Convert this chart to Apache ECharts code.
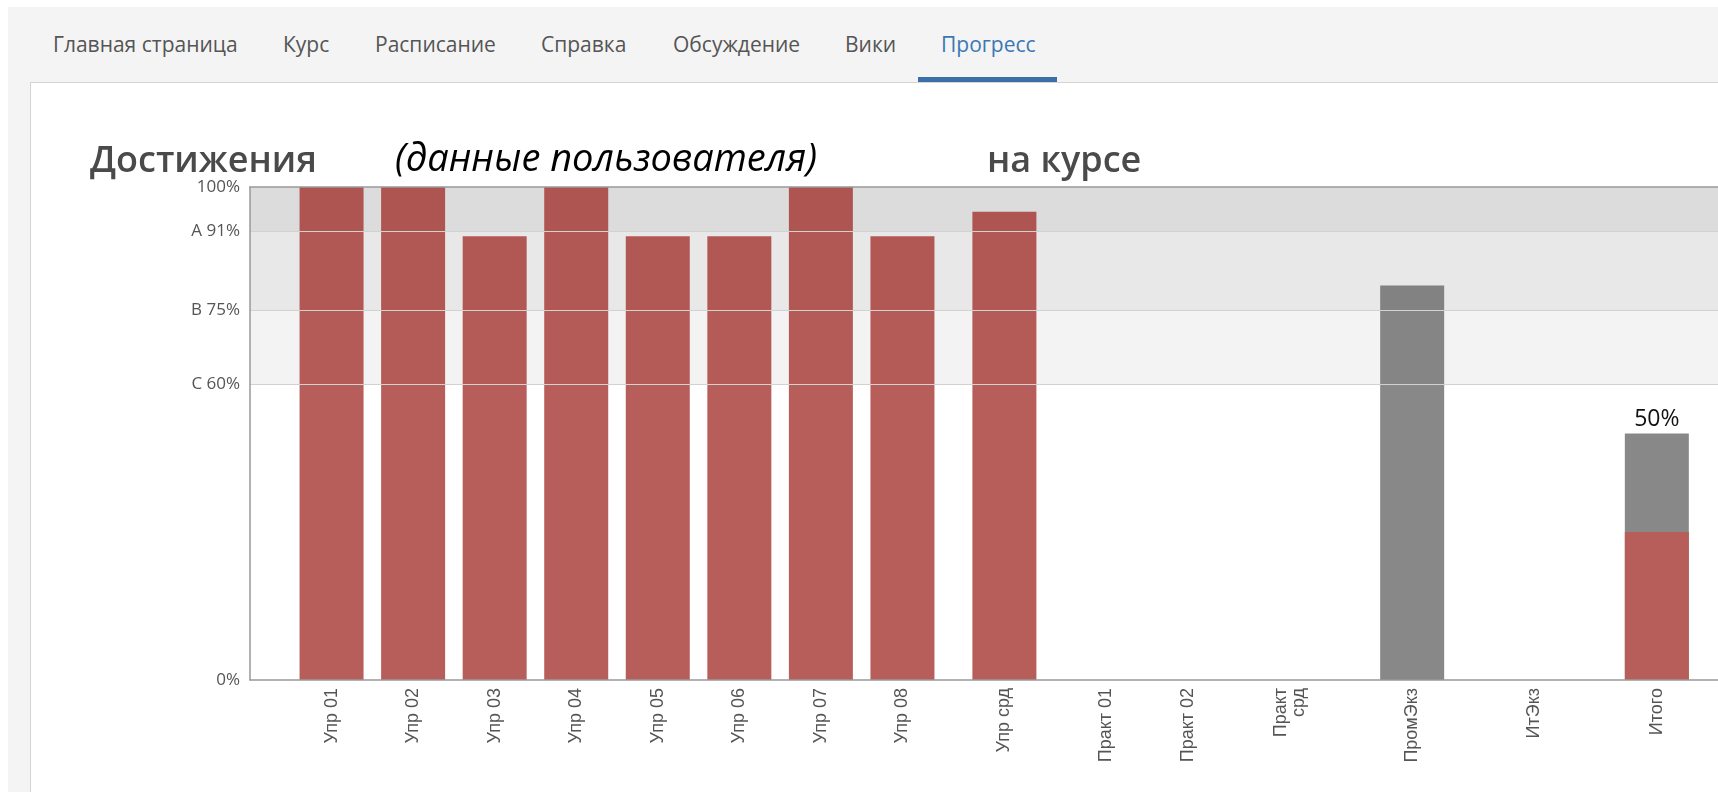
<!DOCTYPE html>
<html>
<head>
<meta charset="utf-8">
<script src="https://cdn.jsdelivr.net/npm/echarts@6/dist/echarts.min.js"></script>
<style>
  html, body { margin: 0; padding: 0; background: #fff; overflow: hidden; }
  #page { position: absolute; left: 8px; top: 7px; width: 1710px; height: 785px; background: #f4f4f4; }
  #nav { position: absolute; left: 0; top: 0; height: 76px; width: 100%; font-family: 'Open Sans', sans-serif; font-size: 21px; color: #555; }
  #nav span { position: absolute; top: 23px; white-space: nowrap; }
  #nav .active { color: #3a78b4; }
  #underline { position: absolute; left: 910px; top: 70px; width: 139px; height: 5px; background: #3a6fa8; }
  #box { position: absolute; left: 22px; top: 75px; width: 1700px; height: 720px; background: #fff; border-left: 1px solid #d4d4d4; border-top: 1px solid #d4d4d4; }
  #chart { position: absolute; left: 0; top: 0; width: 1718px; height: 792px; }
</style>
</head>
<body>
<div id="page">
  <div id="nav">
    <span style="left:45px">Главная страница</span>
    <span style="left:275px">Курс</span>
    <span style="left:367px">Расписание</span>
    <span style="left:533px">Справка</span>
    <span style="left:665px">Обсуждение</span>
    <span style="left:837px">Вики</span>
    <span class="active" style="left:933px">Прогресс</span>
  </div>
  <div id="underline"></div>
  <div id="box"></div>
</div>
<div id="chart"></div>
<script>
// категории и позиции делений по оси X (как в исходном графике прогресса)
var categories = ['Упр 01', 'Упр 02', 'Упр 03', 'Упр 04', 'Упр 05', 'Упр 06', 'Упр 07', 'Упр 08', 'Упр срд',
  'Практ 01', 'Практ 02', 'Практ\nсрд', 'ПромЭкз', 'ИтЭкз', 'Итого']
var tickPos = [1, 2, 3, 4, 5, 6, 7, 8, 9.25, 10.5, 11.5, 12.75, 14.25, 15.75, 17.25]
// набранные баллы (красные) и прочие (серые), %
var earned = [100, 100, 90, 100, 90, 90, 100, 90, 95, 0, 0, 0, 0, 0, 30]
var other = [0, 0, 0, 0, 0, 0, 0, 0, 0, 0, 0, 0, 80, 0, 20]
// пороги оценок
var gradeValues = [0, 60, 75, 91, 100]
var gradeLabels = ['0%', 'C 60%', 'B 75%', 'A 91%', '100%']

var chart = echarts.init(document.getElementById('chart'))

// красные столбцы поверх серых; где под ними серое — без прозрачности
var redData = tickPos.map(function (x, i) {
  var item = { value: [x, earned[i]] }
  if (other[i] > 0) item.itemStyle = { color: '#b85e5a' }
  return item
})
// серые столбцы рисуются от нуля до суммы
var grayData = tickPos.map(function (x, i) {
  var total = other[i] > 0 ? earned[i] + other[i] : 0
  var item = { value: [x, total] }
  if (categories[i] === 'Итого') {
    item.label = { show: true, formatter: total + '%' }
  }
  return item
})

var option = {
  animation: false,
  title: [
    {
      text: 'Достижения',
      left: 85,
      top: 139,
      textStyle: { fontFamily: 'Open Sans', fontSize: 36, fontWeight: 600, color: '#4a4a4a' }
    },
    {
      text: '(данные пользователя)',
      left: 390,
      top: 136,
      textStyle: { fontFamily: 'Open Sans', fontSize: 38, fontStyle: 'italic', fontWeight: 'normal', color: '#000' }
    },
    {
      text: 'на курсе',
      left: 982,
      top: 139,
      textStyle: { fontFamily: 'Open Sans', fontSize: 36, fontWeight: 600, color: '#4a4a4a' }
    }
  ],
  grid: {
    left: 250,
    top: 187,
    right: -3,
    bottom: 112
  },
  xAxis: [
    {
      type: 'value',
      min: 0,
      max: 18,
      z: 5,
      axisLine: { show: true, onZero: false, lineStyle: { color: '#999', width: 1.5 } },
      axisTick: { show: false },
      splitLine: { show: false },
      axisLabel: {
        customValues: tickPos,
        rotate: 90,
        margin: 8,
        fontFamily: 'Liberation Sans',
        fontSize: 18,
        color: '#555',
        align: 'right',
        lineHeight: 18,
        formatter: function (v) {
          var i = tickPos.indexOf(v)
          return i >= 0 ? categories[i] : ''
        }
      }
    },
    {
      type: 'value',
      position: 'top',
      min: 0,
      max: 18,
      z: 5,
      axisLine: { show: true, onZero: false, lineStyle: { color: '#999', width: 1.5 } },
      axisTick: { show: false },
      axisLabel: { show: false },
      splitLine: { show: false }
    }
  ],
  yAxis: {
    type: 'value',
    min: 0,
    max: 100,
    z: 5,
    axisLine: { show: true, lineStyle: { color: '#999', width: 1.5 } },
    axisTick: { show: false },
    splitLine: { show: false },
    axisLabel: {
      customValues: gradeValues,
      margin: 10,
      fontFamily: 'Open Sans',
      fontSize: 17,
      color: '#555',
      formatter: function (v) {
        var i = gradeValues.indexOf(v)
        return i >= 0 ? gradeLabels[i] : ''
      }
    }
  },
  series: [
    {
      name: 'прочее',
      type: 'bar',
      barWidth: 64,
      barGap: '-100%',
      z: 2,
      itemStyle: { color: 'rgba(90, 90, 90, 0.72)' },
      label: {
        show: false,
        position: 'top',
        distance: 3,
        fontFamily: 'Open Sans',
        fontSize: 23,
        color: '#111'
      },
      data: grayData,
      markArea: {
        silent: true,
        data: [
          [{ yAxis: gradeValues[3], itemStyle: { color: '#dcdcdc' } }, { yAxis: gradeValues[4] }],
          [{ yAxis: gradeValues[2], itemStyle: { color: '#e8e8e8' } }, { yAxis: gradeValues[3] }],
          [{ yAxis: gradeValues[1], itemStyle: { color: '#f3f3f3' } }, { yAxis: gradeValues[2] }]
        ]
      },
      markLine: {
        silent: true,
        symbol: 'none',
        label: { show: false },
        lineStyle: { color: '#d2d2d2', type: 'solid', width: 1 },
        data: [{ yAxis: gradeValues[1] }, { yAxis: gradeValues[2] }, { yAxis: gradeValues[3] }]
      }
    },
    {
      name: 'зачтено',
      type: 'bar',
      barWidth: 64,
      barGap: '-100%',
      z: 3,
      itemStyle: { color: 'rgba(160, 40, 35, 0.75)' },
      data: redData
    }
  ]
}

option && chart.setOption(option)
</script>
</body>
</html>
